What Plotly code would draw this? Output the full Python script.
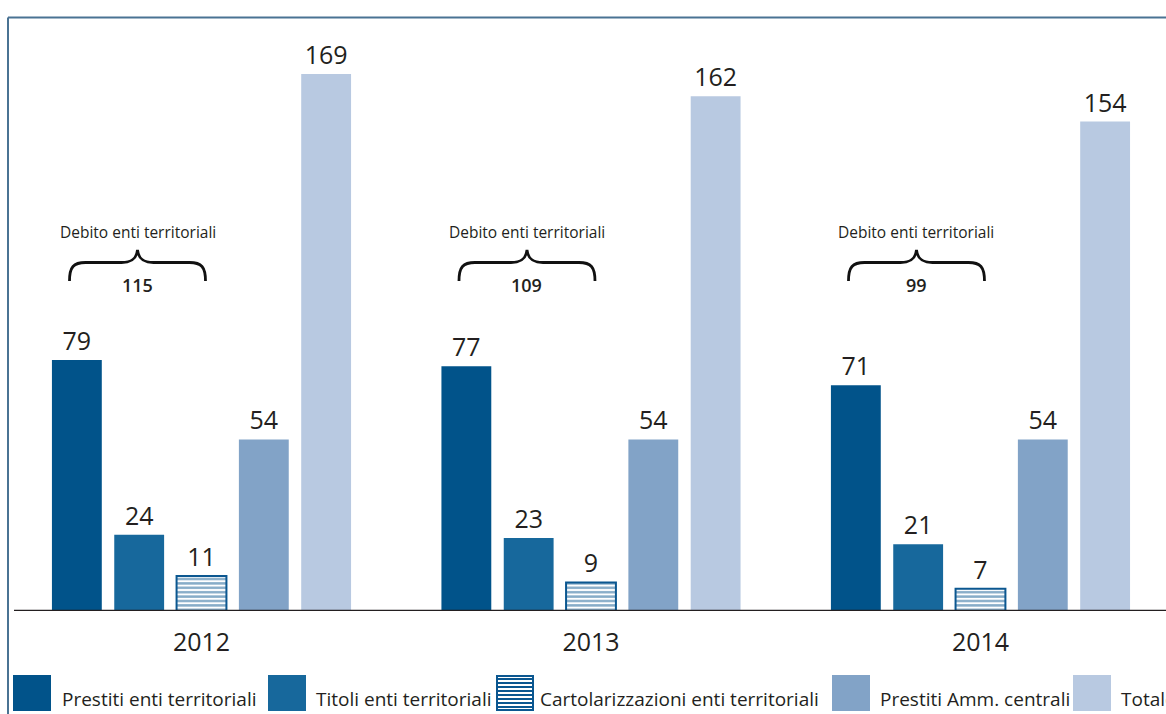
import plotly.graph_objects as go

# ---------------- data ----------------
years = ["2012", "2013", "2014"]
series_names = [
    "Prestiti enti territoriali",
    "Titoli enti territoriali",
    "Cartolarizzazioni enti territoriali",
    "Prestiti Amm. centrali",
    "Totale",
]
prestiti_enti = [79, 77, 71]
titoli_enti = [24, 23, 21]
cartolarizzazioni_enti = [11, 9, 7]
prestiti_amm_centrali = [54, 54, 54]
totale = [169, 162, 154]
debito_label = "Debito enti territoriali"
debito_enti = [115, 109, 99]

all_series = [prestiti_enti, titoli_enti, cartolarizzazioni_enti, prestiti_amm_centrali, totale]

# ---------------- style ----------------
colors = ["#01538a", "#17689c", "#ffffff", "#82a3c7", "#b8c9e1"]
HATCH = "#0b5790"
TXT = "#231f20"
FRAME = "#4a7393"
FONT = "Open Sans"

# page body margin is removed by the post script, so page pixels == figure pixels
OFF = 0
W, H = 1166 - OFF, 714 - OFF
BASE_PAGE = 611          # baseline in page pixels
TOP_PAGE = 18            # top of plot area in page pixels
M_L, M_R = 8 - OFF, 0
M_T = TOP_PAGE - OFF
M_B = H - (BASE_PAGE - OFF)
PW = W - M_L - M_R
PH = H - M_T - M_B
X_RANGE = [-0.4968, 2.4763]
Y_RANGE = [0, 186.6]


def xp(px):
    return (px - OFF - M_L) / PW


def yp(py):
    return (BASE_PAGE - py) / PH


def dx(px):
    return px * (X_RANGE[1] - X_RANGE[0]) / PW


def dy(px):
    return px * (Y_RANGE[1] - Y_RANGE[0]) / PH


def y_of(py):
    return (BASE_PAGE - py) * (Y_RANGE[1] - Y_RANGE[0]) / PH


x_idx = list(range(len(years)))

fig = go.Figure()
for i, (name, vals) in enumerate(zip(series_names, all_series)):
    if i == 2:
        marker = dict(
            color="white",
            line=dict(color=HATCH, width=2),
            pattern=dict(shape="-", fgcolor=HATCH, bgcolor="white", size=4.4, solidity=0.55),
        )
    else:
        marker = dict(color=colors[i], line=dict(width=0))
    fig.add_trace(
        go.Bar(
            x=x_idx,
            y=vals,
            name=name,
            marker=marker,
            text=vals,
            texttemplate="%{y}",
            textposition="outside",
            textfont=dict(family=FONT, size=25, color=TXT),
            constraintext="none",
            cliponaxis=False,
            showlegend=False,
        )
    )

shapes = []
annotations = []

# frame (left + top)
shapes.append(dict(type="line", xref="paper", yref="paper", x0=xp(8), x1=xp(1175),
                   y0=yp(17.5), y1=yp(17.5), line=dict(color=FRAME, width=2)))
shapes.append(dict(type="line", xref="paper", yref="paper", x0=xp(8), x1=xp(8),
                   y0=yp(17.5), y1=yp(720), line=dict(color=FRAME, width=2)))
# baseline
shapes.append(dict(type="line", xref="paper", yref="y", x0=xp(14), x1=xp(1175),
                   y0=0, y1=0, line=dict(color="#231f20", width=2.5), layer="above"))

# braces
BRACE_OFF = dx(-64)
y_tip = y_of(250)
pts_cmds = [
    ("M", [(-68, 31)]),
    ("C", [(-68, 17), (-64, 12.5), (-52, 12.5)]),
    ("L", [(-16, 12.5)]),
    ("C", [(-6, 12.5), (-1, 9), (0, 0)]),
    ("C", [(1, 9), (6, 12.5), (16, 12.5)]),
    ("L", [(52, 12.5)]),
    ("C", [(64, 12.5), (68, 17), (68, 31)]),
]
for g, val in zip(x_idx, debito_enti):
    cx = g + BRACE_OFF
    parts = []
    for cmd, pts in pts_cmds:
        parts.append(cmd + " " + " ".join(f"{cx + dx(ox):.5f},{y_tip - dy(oy):.4f}" for ox, oy in pts))
    shapes.append(dict(type="path", xref="x", yref="y", path=" ".join(parts),
                       line=dict(color="#111111", width=2.8)))
    annotations.append(dict(x=cx, y=y_of(232), xref="x", yref="y", text=debito_label,
                            showarrow=False, xanchor="center", yanchor="middle",
                            font=dict(family=FONT, size=15.5, color=TXT)))
    annotations.append(dict(x=cx, y=y_of(285), xref="x", yref="y", text=str(val),
                            showarrow=False, xanchor="center", yanchor="middle",
                            font=dict(family=FONT, size=18, color=TXT, weight=600)))

# custom legend
leg_pos = [(13, 51, 60), (268, 306, 314), (496, 534, 538), (832, 870, 878), (1073, 1111, 1119)]
LY0, LY1 = 675, 711
for i, (name, (sx0, sx1, tx)) in enumerate(zip(series_names, leg_pos)):
    if i == 2:
        shapes.append(dict(type="rect", xref="paper", yref="paper", x0=xp(sx0 + 1), x1=xp(sx1 - 1),
                           y0=yp(LY1 - 1), y1=yp(LY0 + 1), fillcolor="white",
                           line=dict(color=HATCH, width=2)))
        segs = []
        n = 8
        for k in range(n):
            py = LY0 + 4 + k * (LY1 - LY0 - 8) / (n - 1)
            segs.append(f"M {xp(sx0 + 2):.5f},{yp(py):.5f} L {xp(sx1 - 2):.5f},{yp(py):.5f}")
        shapes.append(dict(type="path", xref="paper", yref="paper", path=" ".join(segs),
                           line=dict(color=HATCH, width=2)))
    else:
        shapes.append(dict(type="rect", xref="paper", yref="paper", x0=xp(sx0), x1=xp(sx1),
                           y0=yp(LY1), y1=yp(LY0), fillcolor=colors[i], line=dict(width=0)))
    annotations.append(dict(x=xp(tx), y=yp(699), xref="paper", yref="paper", text=name,
                            showarrow=False, xanchor="left", yanchor="middle",
                            font=dict(family=FONT, size=19, color=TXT)))

fig.update_layout(
    width=W,
    height=H,
    margin=dict(l=M_L, r=M_R, t=M_T, b=M_B, pad=0),
    paper_bgcolor="white",
    plot_bgcolor="white",
    barmode="group",
    bargap=0.2,
    bargroupgap=0.2,
    showlegend=False,
    shapes=shapes,
    annotations=annotations,
    xaxis=dict(
        range=X_RANGE,
        tickvals=x_idx,
        ticktext=years,
        showgrid=False,
        zeroline=False,
        showline=False,
        ticks="",
        ticklabelstandoff=14,
        tickfont=dict(family=FONT, size=25, color=TXT),
        fixedrange=True,
    ),
    yaxis=dict(range=Y_RANGE, visible=False, fixedrange=True),
)

fig.write_html(
    "out.html",
    config={"displayModeBar": False},
    post_script="document.body.style.margin='0px'; document.body.style.overflow='hidden';",
)
